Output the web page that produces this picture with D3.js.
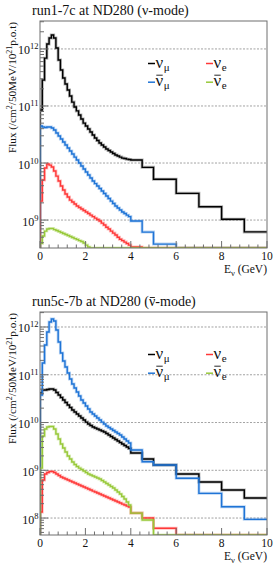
<!DOCTYPE html>
<html>
<head>
<meta charset="utf-8">
<script src="https://cdn.jsdelivr.net/npm/d3@7"></script>
<style>
  body { margin: 0; background: #fff; }
  svg { display: block; font-family: "Liberation Serif", "DejaVu Serif", serif; }
</style>
</head>
<body>
<div id="chart"></div>
<script>
// bin edges (GeV): 0.1 GeV bins up to 4, then coarser
var edges = d3.range(41).map(i => i / 10).concat([4.5, 5, 6, 7, 8, 9, 10]);

// run1-7c, nu-mode (flux /cm2/50MeV/1e21 p.o.t)
var numuNu = [8.5e10, 2.86e11, 6.9e11, 1.22e12, 1.56e12, 1.76e12, 1.56e12, 1.04e12, 6.4e11, 4.28e11,
  3.1e11, 2.43e11, 1.91e11, 1.5e11, 1.17e11, 9.6e10, 8.2e10, 6.95e10, 5.9e10, 5.0e10,
  4.46e10, 3.95e10, 3.5e10, 3.1e10, 2.75e10, 2.48e10, 2.24e10, 2.07e10, 1.91e10, 1.76e10,
  1.66e10, 1.56e10, 1.47e10, 1.38e10, 1.33e10, 1.27e10, 1.22e10, 1.2e10, 1.17e10, 1.15e10,
  1.13e10, 8.4e9, 5.2e9, 2.94e9, 1.71e9, 1.03e9, 6.2e8];
var numubarNu = [4.46e10, 4.28e10, 4.2e10, 4.28e10, 4.28e10, 4.11e10, 3.79e10, 3.36e10, 2.98e10, 2.64e10,
  2.33e10, 2.07e10, 1.83e10, 1.62e10, 1.44e10, 1.27e10, 1.13e10, 1.0e10, 8.86e9, 7.85e9,
  6.95e9, 6.15e9, 5.46e9, 4.83e9, 4.36e9, 3.95e9, 3.57e9, 3.23e9, 2.92e9, 2.64e9,
  2.38e9, 2.15e9, 1.95e9, 1.76e9, 1.63e9, 1.5e9, 1.38e9, 1.3e9, 1.22e9, 1.15e9,
  9.6e8, 6.15e8, 3.79e8, 0, 0, 0, 0];
var nueNu = [2.15e9, 5.04e9, 8.2e9, 9.6e9, 9.2e9, 8.5e9, 7.25e9, 5.9e9, 4.83e9, 3.95e9,
  3.36e9, 2.86e9, 2.53e9, 2.24e9, 2.07e9, 1.91e9, 1.76e9, 1.66e9, 1.56e9, 1.47e9,
  1.38e9, 1.3e9, 1.22e9, 1.15e9, 1.08e9, 1.02e9, 9.6e8, 8.85e8, 8.2e8, 7.5e8,
  6.95e8, 6.4e8, 5.9e8, 5.46e8, 5.0e8, 4.6e8, 4.36e8, 4.11e8, 3.87e8, 3.64e8,
  3.36e8, 0, 0, 0, 0, 0, 0];
var nuebarNu = [3.9e8, 5.24e8, 6.4e8, 6.95e8, 7.1e8, 7.1e8, 6.8e8, 6.55e8, 6.3e8, 6.04e8,
  5.8e8, 5.57e8, 5.35e8, 5.14e8, 4.93e8, 4.73e8, 4.55e8, 4.36e8, 4.2e8, 3.95e8,
  3.64e8, 3.36e8, 0, 0, 0, 0, 0, 0, 0, 0,
  0, 0, 0, 0, 0, 0, 0, 0, 0, 0,
  0, 0, 0, 0, 0, 0, 0];

// run5c-7b, antinu-mode
var numuAnu = [4.15e10, 4.8e10, 4.8e10, 4.91e10, 5.03e10, 5.03e10, 4.8e10, 4.25e10, 3.77e10, 3.34e10,
  2.96e10, 2.62e10, 2.32e10, 2.06e10, 1.83e10, 1.66e10, 1.51e10, 1.37e10, 1.24e10, 1.13e10,
  1.02e10, 9.3e9, 8.65e9, 8.05e9, 7.67e9, 7.3e9, 6.97e9, 6.64e9, 6.32e9, 5.88e9,
  5.47e9, 5.09e9, 4.73e9, 4.4e9, 4.1e9, 3.81e9, 3.55e9, 3.3e9, 3.07e9, 2.85e9,
  2.3e9, 1.72e9, 1.29e9, 8.35e8, 5.68e8, 3.86e8, 2.62e8];
var numubarAnu = [3.77e10, 1.76e11, 4.2e11, 7.85e11, 1.27e12, 1.47e12, 1.34e12, 8.65e11, 4.85e11, 2.85e11,
  1.94e11, 1.45e11, 1.09e11, 8.15e10, 6.4e10, 5.28e10, 4.35e10, 3.59e10, 2.96e10, 2.56e10,
  2.22e10, 1.92e10, 1.66e10, 1.51e10, 1.37e10, 1.24e10, 1.13e10, 1.02e10, 9.3e9, 8.45e9,
  7.85e9, 7.3e9, 6.8e9, 6.32e9, 5.88e9, 5.47e9, 4.97e9, 4.51e9, 4.1e9, 3.72e9,
  2.66e9, 1.51e9, 1.29e9, 6.8e8, 3.29e8, 1.73e8, 9.4e7];
var nueAnu = [1.34e8, 6.25e8, 8.35e8, 8.97e8, 9.42e8, 9.42e8, 8.97e8, 8.35e8, 7.76e8, 7.22e8,
  6.88e8, 6.56e8, 6.25e8, 5.96e8, 5.68e8, 5.41e8, 5.15e8, 4.91e8, 4.68e8, 4.46e8,
  4.25e8, 4.05e8, 3.86e8, 3.67e8, 3.5e8, 3.34e8, 3.18e8, 3.03e8, 2.89e8, 2.75e8,
  2.62e8, 2.5e8, 2.38e8, 2.27e8, 2.16e8, 2.06e8, 1.96e8, 1.87e8, 1.78e8, 1.7e8,
  1.27e8, 1.0e8, 6.1e7, 0, 0, 0, 0];
var nuebarAnu = [1.11e9, 5.21e9, 7.3e9, 8.05e9, 8.25e9, 8.25e9, 7.3e9, 5.74e9, 4.51e9, 3.55e9,
  2.92e9, 2.41e9, 1.99e9, 1.72e9, 1.49e9, 1.32e9, 1.2e9, 1.11e9, 1.04e9, 9.65e8,
  8.97e8, 8.35e8, 7.95e8, 7.58e8, 7.22e8, 6.88e8, 6.56e8, 6.1e8, 5.68e8, 5.28e8,
  4.91e8, 4.57e8, 4.25e8, 3.86e8, 3.5e8, 3.18e8, 2.82e8, 2.5e8, 2.16e8, 1.87e8,
  1.27e8, 9.1e7, 0, 0, 0, 0, 0];

var xTicks = [0, 2, 4, 6, 8, 10];
var flavours = ["numu", "numubar", "nue", "nuebar"];
var colors = {numu: "#000000", numubar: "#1f74d6", nue: "#ff3838", nuebar: "#98c93a"};

var width = 275, height = 564;
var left = 40, right = 267;

var panels = [
  {title: ["run1-7c at ND280 (", "ν", "-mode)"], bar: false, top: 21, bottom: 248,
   yDomain: [Math.pow(10, 8.51), Math.pow(10, 12.49)], decades: [9, 10, 11, 12],
   series: {numu: numuNu, numubar: numubarNu, nue: nueNu, nuebar: nuebarNu}},
  {title: ["run5c-7b at ND280 (", "ν", "-mode)"], bar: true, top: 312, bottom: 535,
   yDomain: [Math.pow(10, 7.645), Math.pow(10, 12.314)], decades: [8, 9, 10, 11, 12],
   series: {numu: numuAnu, numubar: numubarAnu, nue: nueAnu, nuebar: nuebarAnu}}
];

var svg = d3.select("#chart").append("svg")
  .attr("width", width)
  .attr("height", height);

var x = d3.scaleLinear().domain([0, 10]).range([left, right]);

// horizontal bar over a glyph of a text element (antineutrino)
function overbar(parent, textSel, idx, rise, color) {
  var ext = textSel.node().getExtentOfChar(idx);
  var base = +textSel.attr("y");
  parent.append("line")
    .attr("x1", ext.x + 0.8).attr("x2", ext.x + ext.width - 0.5)
    .attr("y1", base - rise).attr("y2", base - rise)
    .attr("stroke", color).attr("stroke-width", 0.9);
}

panels.forEach(function(p, k) {
  var y = d3.scaleLog().domain(p.yDomain).range([p.bottom, p.top]).clamp(true);
  var g = svg.append("g");
  var axisColor = "#6e6e6e";

  // title
  var t = g.append("text")
    .attr("x", 32).attr("y", p.top - 6)
    .attr("font-size", 14).attr("fill", "#111")
    .text(p.title.join(""));
  if (p.bar) overbar(g, t, p.title[0].length, 8.5, "#111");

  // grid
  g.selectAll(".grid").data(p.decades).enter().append("line")
    .attr("x1", left).attr("x2", right)
    .attr("y1", d => y(Math.pow(10, d))).attr("y2", d => y(Math.pow(10, d)))
    .attr("stroke", "#8a8a8a").attr("stroke-width", 0.8)
    .attr("stroke-dasharray", "2,1.5");

  // clip
  g.append("clipPath").attr("id", "clip" + k)
    .append("rect").attr("x", left).attr("y", p.top - 1)
    .attr("width", right - left + 1).attr("height", p.bottom - p.top + 1);

  var plot = g.append("g").attr("clip-path", `url(#clip${k})`);
  var ymin = p.yDomain[0];

  function stepPath(vals) {
    var d = `M${x(edges[0])},${p.bottom}`;
    vals.forEach(function(v, i) {
      d += `V${y(Math.max(v, ymin))}H${x(edges[i + 1])}`;
    });
    return d;
  }

  flavours.forEach(function(f) {
    plot.append("path")
      .attr("d", stepPath(p.series[f]))
      .attr("fill", "none")
      .attr("stroke", colors[f])
      .attr("stroke-opacity", 0.3)
      .attr("stroke-width", 3);
    plot.append("path")
      .attr("d", stepPath(p.series[f]))
      .attr("fill", "none")
      .attr("stroke", colors[f])
      .attr("stroke-width", 1.4);
  });

  // frame
  g.append("rect")
    .attr("x", left).attr("y", p.top)
    .attr("width", right - left).attr("height", p.bottom - p.top)
    .attr("fill", "none").attr("stroke", axisColor).attr("stroke-width", 1);

  // x ticks
  var minorX = d3.range(26).map(i => i * 0.4);
  g.selectAll(".xminor").data(minorX).enter().append("line")
    .attr("x1", d => x(d)).attr("x2", d => x(d))
    .attr("y1", p.bottom).attr("y2", d => p.bottom - (xTicks.indexOf(Math.round(d * 10) / 10) >= 0 ? 7 : 3.5))
    .attr("stroke", axisColor);

  g.selectAll(".xlab").data(xTicks).enter().append("text")
    .attr("x", d => x(d)).attr("y", p.bottom + 12)
    .attr("text-anchor", "middle").attr("font-size", 11.5).attr("fill", "#111")
    .text(d => d);

  // x title
  var xt = g.append("text")
    .attr("x", right).attr("y", p.bottom + 25)
    .attr("text-anchor", "end").attr("font-size", 11.5).attr("fill", "#111");
  xt.append("tspan").text("E");
  xt.append("tspan").attr("dy", 2.5).attr("font-size", 8.5).text("ν");
  xt.append("tspan").attr("dy", -2.5).text(" (GeV)");

  // y ticks (log, major + minor)
  var lo = Math.floor(Math.log10(p.yDomain[0])), hi = Math.ceil(Math.log10(p.yDomain[1]));
  var yt = [];
  for (var e = lo; e <= hi; e++) {
    for (var m = 1; m <= 9; m++) {
      var v = m * Math.pow(10, e);
      if (v >= p.yDomain[0] && v <= p.yDomain[1]) yt.push({v: v, major: m === 1});
    }
  }
  g.selectAll(".ytick").data(yt).enter().append("line")
    .attr("x1", left).attr("x2", d => left + (d.major ? 8 : 4))
    .attr("y1", d => y(d.v)).attr("y2", d => y(d.v))
    .attr("stroke", axisColor);

  var ylab = g.selectAll(".ylab").data(p.decades).enter().append("text")
    .attr("x", 38.5).attr("y", d => y(Math.pow(10, d)) + 5.5)
    .attr("text-anchor", "end").attr("font-size", 12).attr("fill", "#111");
  ylab.append("tspan").text("10");
  ylab.append("tspan").attr("dy", -5).attr("font-size", 8.5).text(d => d);

  // y title
  var ytt = g.append("text")
    .attr("transform", `translate(16,${p.top + 1}) rotate(-90)`)
    .attr("text-anchor", "end").attr("font-size", 11.2).attr("fill", "#111");
  ytt.append("tspan").text("Flux (/cm");
  ytt.append("tspan").attr("dy", -4).attr("font-size", 8).text("2");
  ytt.append("tspan").attr("dy", 4).text("/50MeV/10");
  ytt.append("tspan").attr("dy", -4).attr("font-size", 8).text("21");
  ytt.append("tspan").attr("dy", 4).text("p.o.t)");

  // legend
  var row0 = p.top + 42.5, rowH = 18.7;
  var legend = [
    {f: "numu", bar: false, sub: "μ", col: 0, row: 0},
    {f: "nue", bar: false, sub: "e", col: 1, row: 0},
    {f: "numubar", bar: true, sub: "μ", col: 0, row: 1},
    {f: "nuebar", bar: true, sub: "e", col: 1, row: 1}
  ];
  legend.forEach(function(d) {
    var lg = g.append("g")
      .attr("transform", `translate(${148 + d.col * 58},${row0 + d.row * rowH})`);
    lg.append("line")
      .attr("x1", 0).attr("x2", 7).attr("y1", 0).attr("y2", 0)
      .attr("stroke", colors[d.f]).attr("stroke-width", 1.5);
    var nu = lg.append("text").attr("x", 7.5).attr("y", 4)
      .attr("font-size", 17).attr("fill", "#111").text("ν");
    var w = nu.node().getComputedTextLength();
    lg.append("text").attr("x", 7.5 + w + 0.5).attr("y", 7)
      .attr("font-size", 11).attr("fill", "#111").text(d.sub);
    if (d.bar) overbar(lg, nu, 0, 11, "#111");
  });
});
</script>
</body>
</html>
